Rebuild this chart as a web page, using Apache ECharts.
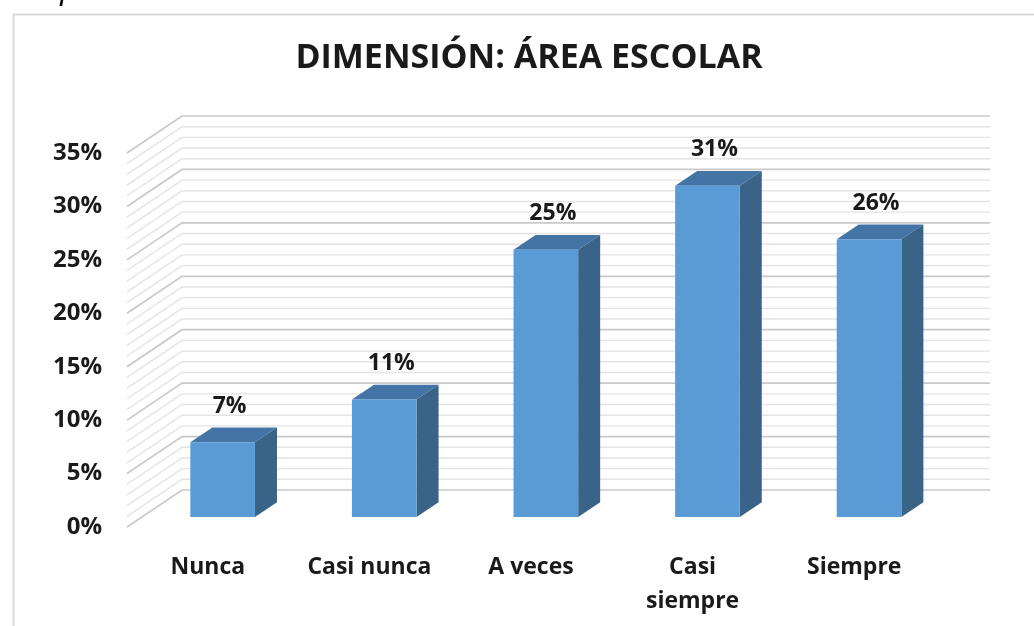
<!DOCTYPE html>
<html lang="es">
<head>
    <meta charset="UTF-8">
    <title>DIMENSIÓN: ÁREA ESCOLAR</title>
    <script src="https://cdn.jsdelivr.net/npm/echarts@6/dist/echarts.min.js"></script>
    <style>
        html, body { margin: 0; padding: 0; background: #fff; }
    </style>
</head>
<body>
<div id="main" style="width: 1034px;height:626px;"></div> <!-- chart box -->
<script type="text/javascript">
    // data
    const categories = ['Nunca', 'Casi nunca', 'A veces', 'Casi\nsiempre', 'Siempre'];
    const values = [7, 11, 25, 31, 26]; // percent
    const yMax = 35;
    const yStep = 5;
    // one gridline per percent, every 5th is darker
    const gridLevels = [0, 1, 2, 3, 4, 5, 6, 7, 8, 9, 10, 11, 12, 13, 14, 15, 16, 17,
        18, 19, 20, 21, 22, 23, 24, 25, 26, 27, 28, 29, 30, 31, 32, 33, 34, 35];

    // fake 3d: depth vector and where the bar sits in depth
    const DX = 55, DY = -37;
    const D0 = 0.27, D1 = 0.67;
    const BAR_RATIO = 0.4;
    const FONT = '"Open Sans", "DejaVu Sans", sans-serif';

    function gridItem(params, api) { // side wall + back wall line
        const v = api.value(1);
        const y = api.coord([0, v])[1];
        const x0 = params.coordSys.x;
        const x1 = x0 + params.coordSys.width;
        const major = v % yStep === 0;
        return {
            type: 'polyline',
            shape: { points: [[x0, y], [x0 + DX, y + DY], [x1 + DX, y + DY]] },
            style: { fill: null, stroke: major ? '#c9c9c9' : '#e4e4e4', lineWidth: major ? 1.7 : 1.4 },
            silent: true
        };
    }

    function barItem(params, api) { // front, top and side faces + label
        const i = api.value(0), v = api.value(1);
        const base = api.coord([i, 0]);
        const top = api.coord([i, v]);
        const hw = api.size([1, 0])[0] * BAR_RATIO / 2;
        const fx = DX * D0, fy = DY * D0, bx = DX * D1, by = DY * D1;
        const l = base[0] - hw, r = base[0] + hw;
        return {
            type: 'group',
            children: [
                { type: 'polygon', shape: { points: [[l + fx, top[1] + fy], [r + fx, top[1] + fy], [r + bx, top[1] + by], [l + bx, top[1] + by]] },
                  style: { fill: '#4474A6' } },
                { type: 'polygon', shape: { points: [[r + fx, top[1] + fy], [r + bx, top[1] + by], [r + bx, base[1] + by], [r + fx, base[1] + fy]] },
                  style: { fill: '#3A6388' } },
                { type: 'rect', shape: { x: l + fx, y: top[1] + fy, width: 2 * hw, height: base[1] - top[1] },
                  style: { fill: '#5B9BD5' } },
                { type: 'text', x: base[0] + fx + 7, y: top[1] + fy - 36,
                  style: { text: v + '%', align: 'center', verticalAlign: 'middle', fill: '#1a1a1a',
                           font: 'bold 23px ' + FONT } }
            ]
        };
    }

    let options = {
        backgroundColor: '#fff',
        animation: false,
        title: {
            text: 'DIMENSIÓN: ÁREA ESCOLAR',
            left: 524, top: 36, textAlign: 'center',
            textStyle: { fontFamily: FONT, fontWeight: 'bold', fontSize: 34, color: '#1a1a1a' }
        },
        graphic: [
            { type: 'rect', left: 11, top: 12, shape: { width: 1060, height: 660 },
              style: { fill: null, stroke: '#d9d9d9', lineWidth: 2 }, silent: true },
            { type: 'text', left: 22, top: -23,
              style: { text: 'Representación de la dimensión área escolar', fill: '#000',
                       font: 'italic 30px "Liberation Sans", sans-serif' } }
        ],
        grid: { left: 127, right: 99, top: 153, bottom: 99 },
        xAxis: {
            type: 'category',
            data: categories,
            axisLine: { show: false },
            axisTick: { show: false },
            axisLabel: { margin: 23, fontFamily: FONT, fontWeight: 'bold', fontSize: 23, color: '#1a1a1a', lineHeight: 34, interval: 0 }
        },
        yAxis: {
            type: 'value',
            min: 0, max: yMax, interval: yStep,
            axisLine: { show: false },
            axisTick: { show: false },
            splitLine: { show: false },
            axisLabel: { margin: 25, formatter: '{value}%', fontFamily: FONT, fontWeight: 'bold', fontSize: 24, color: '#1a1a1a' }
        },
        series: [
            { type: 'custom', name: 'grid', renderItem: gridItem, z: 1,
              data: gridLevels.map((v) => [0, v]) },
            { type: 'custom', name: 'Área escolar', renderItem: barItem, z: 2,
              data: values.map((v, i) => [i, v]) }
        ]
    };
    let myChart = echarts.init(document.getElementById('main'));
    myChart.setOption(options);
</script>
</body>
</html>
